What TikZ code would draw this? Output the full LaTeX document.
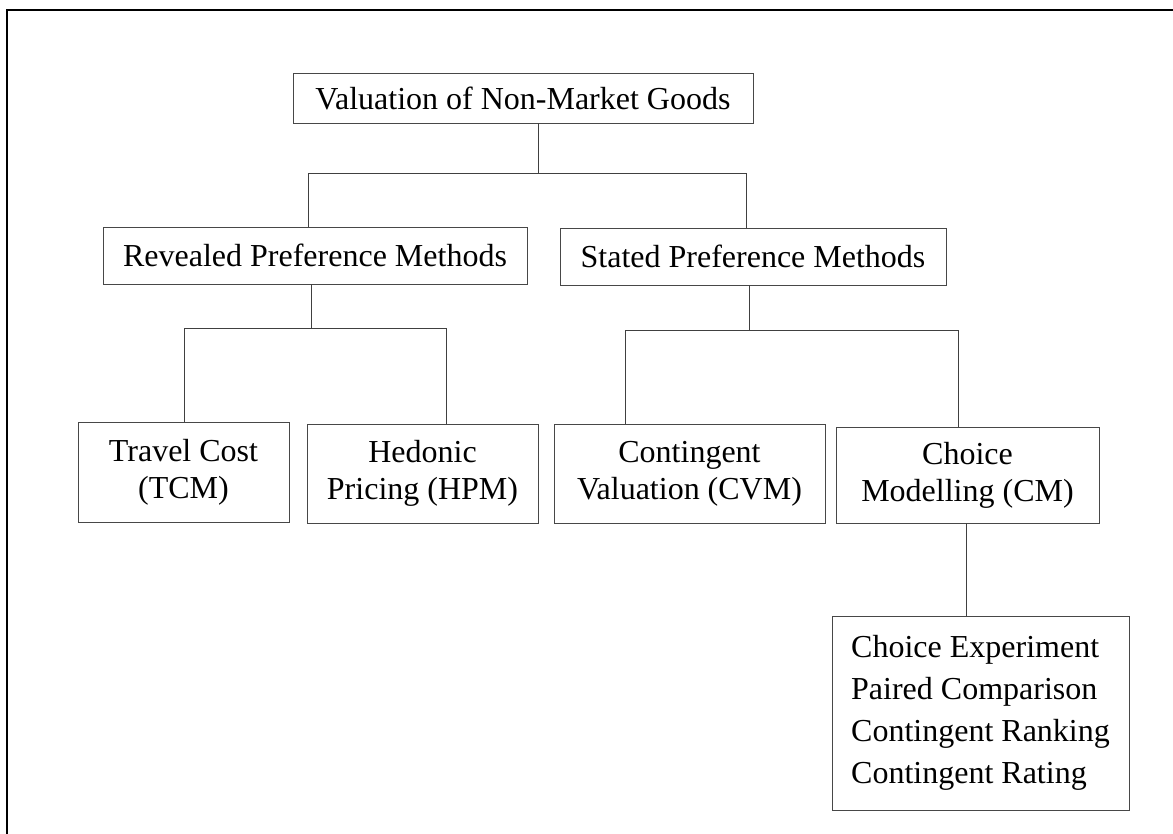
\documentclass[tikz,border=0pt]{standalone}
\usepackage{fontspec}
\setmainfont{Liberation Serif}
\begin{document}
\begin{tikzpicture}[x=1pt,y=-1pt,
  box/.style={draw=black!72,line width=0.9pt,inner sep=0pt,align=center,
    font=\fontsize{32}{37}\selectfont},
  link/.style={draw=black!75,line width=0.9pt},
  frame/.style={draw=black,line width=2.4pt}]
\useasboundingbox (0,0) rectangle (1173,834);
% outer frame (only its top and left edges fall inside the page)
\coordinate (fbl) at (7,840);
\coordinate (ftl) at (7,10);
\coordinate (ftr) at (1180,10);
\draw[frame] (fbl) -- (ftl) -- (ftr);

% boxes
\node[box,minimum width=460pt,minimum height=50pt] (top) at (523,98) {Valuation of Non-Market Goods};
\node[box,minimum width=424pt,minimum height=57pt] (rev) at (315,255.5) {Revealed Preference Methods};
\node[box,minimum width=386pt,minimum height=57pt] (sta) at (753,256.5) {Stated Preference Methods};
\node[box,minimum width=211pt,minimum height=100pt] (tcm) at (183.5,472) {Travel Cost\\(TCM)};
\node[box,minimum width=231pt,minimum height=99pt] (hpm) at (422.5,473.5) {Hedonic\\Pricing (HPM)};
\node[box,minimum width=271pt,minimum height=99pt] (cvm) at (689.5,473.5) {Contingent\\Valuation (CVM)};
\node[box,minimum width=263pt,minimum height=96pt] (cm) at (967.5,475) {Choice\\Modelling (CM)};
\node[box,align=left,minimum width=297pt,minimum height=194pt,
  font=\fontsize{32}{42}\selectfont] (cmx) at (980.5,713)
  {Choice Experiment\\Paired Comparison\\Contingent Ranking\\Contingent Rating};

% bus points of the tree
\coordinate (j1) at (538,173);
\coordinate (j1l) at (308,173);
\coordinate (j1r) at (746,173);
\coordinate (j2) at (311,328);
\coordinate (j2l) at (184,328);
\coordinate (j2r) at (446,328);
\coordinate (j3) at (749,330);
\coordinate (j3l) at (625,330);
\coordinate (j3r) at (958,330);
\coordinate (j4) at (966,616);

% connectors
\draw[link] (top.south -| j1) -- (j1);
\draw[link] (rev.north -| j1l) |- (j1r) -- (sta.north -| j1r);
\draw[link] (rev.south -| j2) -- (j2);
\draw[link] (tcm.north -| j2l) |- (j2r) -- (hpm.north -| j2r);
\draw[link] (sta.south -| j3) -- (j3);
\draw[link] (cvm.north -| j3l) |- (j3r) -- (cm.north -| j3r);
\draw[link] (cm.south -| j4) -- (cmx.north -| j4);
\end{tikzpicture}
\end{document}
